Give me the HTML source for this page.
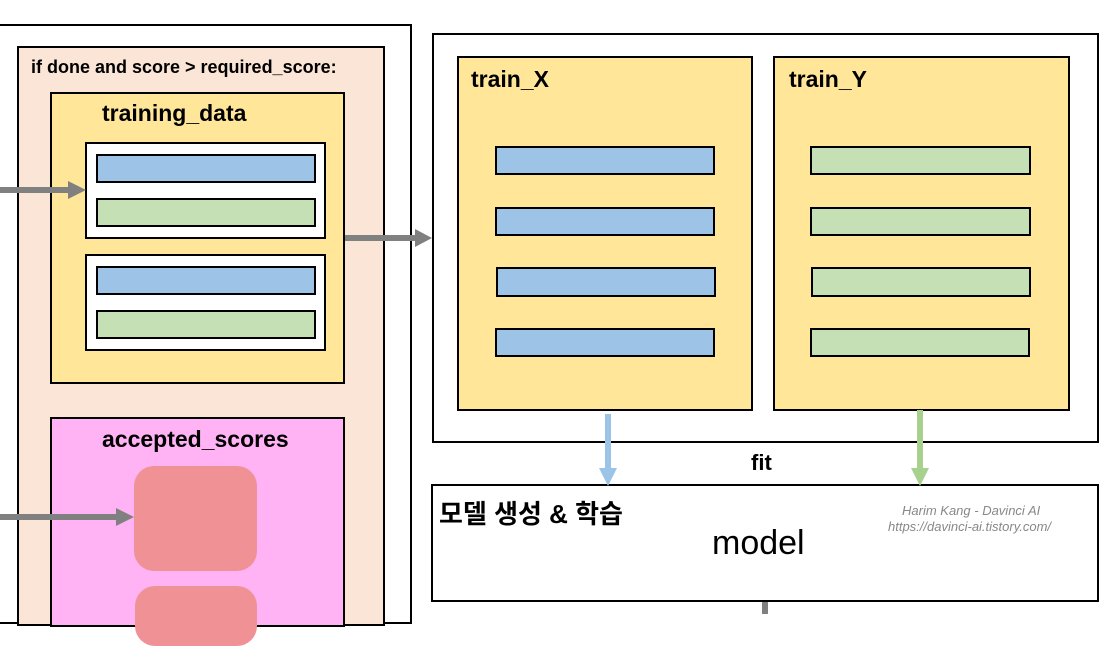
<!DOCTYPE html>
<html><head><meta charset="utf-8"><style>
body{margin:0;width:1118px;height:612px;overflow:hidden;background:#fff;position:relative;font-family:"Liberation Sans","Noto Sans CJK KR",sans-serif}
div{position:absolute;box-sizing:border-box}
.b{border:2px solid #000}
.blue{background:#9dc3e6;border:2px solid #000}
.green{background:#c5e0b4;border:2px solid #000}
.t{font-weight:bold;color:#000;white-space:nowrap}
</style></head><body>
<div class="b" style="left:-10px;top:24px;width:422px;height:600px"></div>
<div class="b" style="left:17px;top:46px;width:368px;height:580px;background:#fbe5d6"></div>
<div class="t" style="left:31px;top:57px;font-size:18px">if done and score &gt; required_score:</div>
<div class="b" style="left:50px;top:92px;width:295px;height:292px;background:#ffe699"></div>
<div class="t" style="left:102px;top:100px;font-size:23px">training_data</div>
<div class="b" style="left:85px;top:142px;width:241px;height:97px;background:#fff"></div>
<div class="blue" style="left:96px;top:154px;width:220px;height:29px"></div>
<div class="green" style="left:96px;top:198px;width:220px;height:29px"></div>
<div class="b" style="left:85px;top:254px;width:241px;height:97px;background:#fff"></div>
<div class="blue" style="left:96px;top:266px;width:220px;height:29px"></div>
<div class="green" style="left:96px;top:310px;width:220px;height:29px"></div>
<div class="b" style="left:50px;top:417px;width:295px;height:210px;background:#ffb3f5"></div>
<div class="t" style="left:102px;top:426px;font-size:23px">accepted_scores</div>
<div style="left:134px;top:466px;width:123px;height:105px;background:#f09295;border-radius:20px"></div>
<div style="left:135px;top:586px;width:122px;height:60px;background:#f09295;border-radius:20px"></div>

<div class="b" style="left:432px;top:33px;width:667px;height:410px"></div>
<div class="b" style="left:457px;top:56px;width:296px;height:355px;background:#ffe699"></div>
<div class="t" style="left:471px;top:66px;font-size:23px">train_X</div>
<div class="b" style="left:773px;top:56px;width:297px;height:355px;background:#ffe699"></div>
<div class="t" style="left:789px;top:66px;font-size:23px">train_Y</div>
<div class="blue" style="left:495px;top:146px;width:220px;height:29px"></div>
<div class="blue" style="left:495px;top:207px;width:220px;height:29px"></div>
<div class="blue" style="left:496px;top:267px;width:220px;height:30px"></div>
<div class="blue" style="left:495px;top:328px;width:220px;height:29px"></div>
<div class="green" style="left:810px;top:146px;width:221px;height:29px"></div>
<div class="green" style="left:810px;top:207px;width:221px;height:29px"></div>
<div class="green" style="left:811px;top:267px;width:220px;height:30px"></div>
<div class="green" style="left:810px;top:328px;width:220px;height:29px"></div>
<div class="t" style="left:751px;top:450px;font-size:22px">fit</div>
<div class="b" style="left:431px;top:484px;width:668px;height:118px"></div>
<div class="t" style="left:439px;top:494px;font-size:26px">모델 생성 &amp; 학습</div>
<div style="left:712px;top:524px;font-size:34px;color:#000">model</div>
<div style="left:902px;top:503px;font-size:13px;font-style:italic;color:#888">Harim Kang - Davinci AI</div>
<div style="left:888px;top:519px;font-size:13px;font-style:italic;color:#888">https://davinci-ai.tistory.com/</div>
<div style="left:762px;top:602px;width:6px;height:12px;background:#808080"></div>

<svg style="position:absolute;left:0;top:0" width="1118" height="612">
<g fill="#808080" stroke="none">
<rect x="0" y="187" width="70" height="6"/><polygon points="68,181 86,190 68,199"/>
<rect x="345" y="235" width="72" height="6"/><polygon points="415,229 432,238 415,247"/>
<rect x="0" y="514" width="118" height="6"/><polygon points="116,508 134,517 116,526"/>
</g>
<rect x="605" y="414" width="6" height="56" fill="#9dc3e6"/><polygon points="599,468 617,468 608,486" fill="#9dc3e6"/>
<rect x="917" y="410" width="6" height="60" fill="#a9d18e"/><polygon points="911,468 929,468 920,486" fill="#a9d18e"/>
</svg>
</body></html>
